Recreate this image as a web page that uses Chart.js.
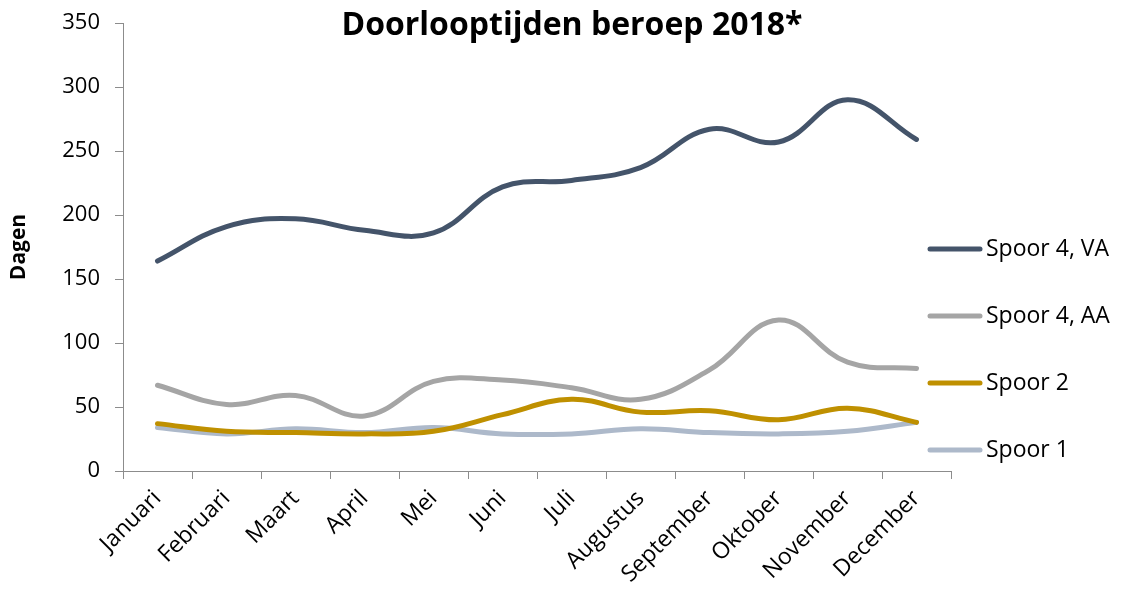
<!DOCTYPE html>
<html>
<head>
<meta charset="utf-8">
<script src="https://cdn.jsdelivr.net/npm/chart.js@4/dist/chart.umd.min.js"></script>
<style>
  html, body { margin: 0; padding: 0; background: #fff; }
  #wrap { width: 1130px; height: 591px; }
</style>
</head>
<body>
<div id="wrap"><canvas id="chart" width="1130" height="591"></canvas></div>
<script>
// data
const months = ["Januari", "Februari", "Maart", "April", "Mei", "Juni", "Juli",
                "Augustus", "September", "Oktober", "November", "December"];
const spoor4VA = [164, 191, 197, 188, 186, 222, 227, 237, 267, 257, 290, 259];
const spoor4AA = [67, 52, 59, 43, 70, 71, 65, 56, 79, 118, 85, 80];
const spoor2   = [37, 31, 30, 29, 31, 44, 56, 46, 47, 40, 49, 38];
const spoor1   = [34, 29, 33, 30, 34, 29, 29, 33, 30, 29, 31, 38];
const yTicks   = [0, 50, 100, 150, 200, 250, 300, 350];

const FONT = "'Open Sans', 'Noto Sans', sans-serif";
const axisGrey = "#8c8c8c";

function line(label, data, color) {
    return {
        label: label,
        data: data,
        borderColor: color,
        backgroundColor: color,
        borderWidth: 5,
        borderCapStyle: "round",
        tension: 0.4,
        pointRadius: 0,
        fill: false
    };
}

// title + legend drawn by hand, the legend overlaps the end of the axis like in the original
const extras = {
    id: "extras",
    afterDraw(c) {
        const ctx = c.ctx;
        ctx.save();
        ctx.fillStyle = "#000";
        ctx.font = "bold 32px " + FONT;
        ctx.textAlign = "center";
        ctx.textBaseline = "alphabetic";
        ctx.fillText("Doorlooptijden beroep 2018*", 572, 35);

        ctx.font = "23px " + FONT;
        ctx.textAlign = "left";
        ctx.textBaseline = "middle";
        c.data.datasets.forEach((ds, i) => {
            const y = 249 + i * 67;
            ctx.strokeStyle = ds.borderColor;
            ctx.lineWidth = 5;
            ctx.lineCap = "round";
            ctx.beginPath();
            ctx.moveTo(930, y);
            ctx.lineTo(980, y);
            ctx.stroke();
            ctx.fillStyle = "#000";
            ctx.fillText(ds.label, 986, y);
        });
        ctx.restore();
    }
};

new Chart(document.getElementById("chart"), {
    type: "line",
    data: {
        labels: months,
        datasets: [
            line("Spoor 4, VA", spoor4VA, "#44546a"),
            line("Spoor 4, AA", spoor4AA, "#a5a5a5"),
            line("Spoor 2", spoor2, "#bf9000"),
            line("Spoor 1", spoor1, "#adb9ca")
        ]
    },
    options: {
        responsive: false,
        animation: false,
        layout: { padding: { left: 6, top: 23, right: 179, bottom: 0 } },
        plugins: {
            legend: { display: false },
            title: { display: false },
            tooltip: { enabled: false }
        },
        scales: {
            x: {
                offset: true,
                grid: { display: true, drawOnChartArea: false, offset: true,
                        color: axisGrey, tickLength: 8 },
                border: { display: true, color: axisGrey, width: 1 },
                ticks: { color: "#000", font: { family: FONT, size: 23 },
                         minRotation: 45, maxRotation: 45, autoSkip: false, padding: 6 },
                afterFit(s) { s.height = 591 - 471; }
            },
            y: {
                min: 0,
                max: 350,
                afterBuildTicks(s) { s.ticks = yTicks.map(v => ({ value: v })); },
                grid: { display: true, drawOnChartArea: false, color: axisGrey, tickLength: 8 },
                border: { display: true, color: axisGrey, width: 1 },
                ticks: { color: "#000", font: { family: FONT, size: 22 }, padding: 15 },
                title: { display: true, text: "Dagen", color: "#000",
                         font: { family: FONT, size: 21, weight: "bold" }, padding: 0 },
                afterFit(s) {
                    s.width = 123 - 6;
                    // tick padding would otherwise push the top of the plot down
                    s.paddingTop = 0;
                    s.paddingBottom = 0;
                }
            }
        }
    },
    plugins: [extras]
});
</script>
</body>
</html>
